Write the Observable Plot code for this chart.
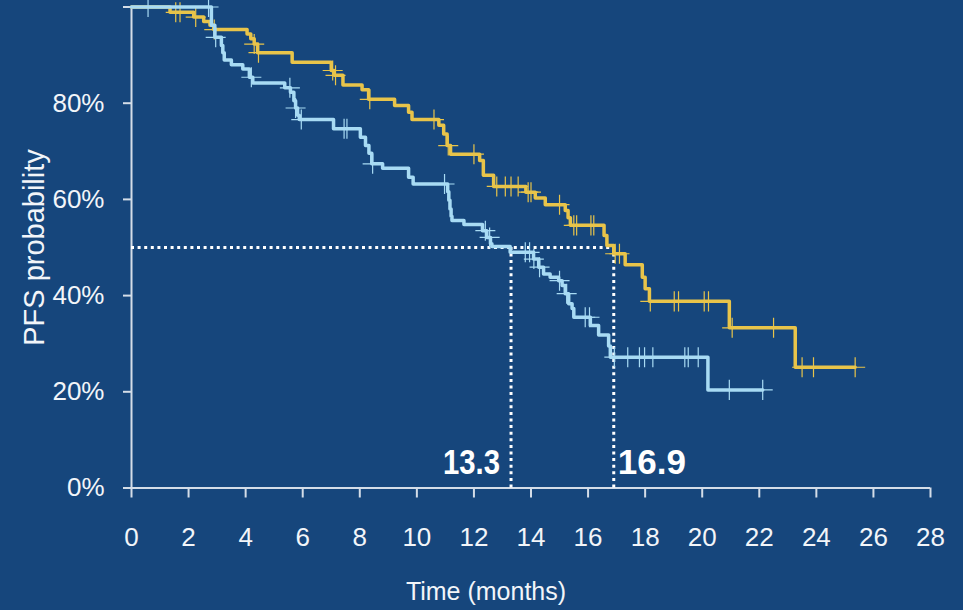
<!DOCTYPE html>
<html>
<head>
<meta charset="utf-8">
<script src="https://cdn.jsdelivr.net/npm/d3@7"></script>
<script src="https://cdn.jsdelivr.net/npm/@observablehq/plot@0.6"></script>
<style>
  html, body { margin: 0; padding: 0; background: #16467c; }
  #chart { width: 963px; height: 610px; overflow: hidden; }
  #chart svg g[aria-label="x-axis tick label"] text,
  #chart svg g[aria-label="y-axis tick label"] text { font-size: 26px; }
</style>
</head>
<body>
<div id="chart"></div>
<script>
// ---- Data ----
const xTicks = [0, 2, 4, 6, 8, 10, 12, 14, 16, 18, 20, 22, 24, 26, 28];
const yTicks = [0, 20, 40, 60, 80, 100];
const xTitle = "Time (months)";
const yTitle = "PFS probability";

// Yellow arm
const armATime = [0, 1.35, 2.18, 2.53, 2.75, 2.88, 4.05, 4.18, 4.30, 4.42, 5.63, 7.00, 7.10, 7.41, 8.08, 8.31, 9.22, 9.71, 9.83, 10.77, 10.94, 11.06, 11.18, 12.20, 12.33, 12.69, 13.82, 14.15, 14.50, 15.20, 15.30, 15.38, 16.56, 16.66, 16.90, 17.30, 17.90, 18.00, 18.15, 20.95, 23.26];
const armASurv = [100, 98.9, 97.9, 97.0, 96.2, 95.3, 94.4, 93.4, 92.3, 90.5, 88.5, 86.8, 85.8, 83.8, 82.8, 80.8, 79.5, 78.1, 76.6, 75.4, 73.6, 71.2, 69.4, 68.1, 65.0, 62.7, 61.5, 60.3, 58.9, 57.7, 56.2, 54.6, 52.5, 50.4, 48.7, 46.4, 43.8, 41.4, 38.8, 33.3, 25.1];
const armACensor = [1.55, 1.7, 2.25, 2.9, 4.3, 4.45, 7.05, 7.15, 8.35, 10.6, 11.1, 12.0, 12.8, 13.1, 13.3, 13.55, 13.9, 14.0, 15.0, 15.5, 15.6, 16.1, 16.2, 16.95, 17.1, 18.18, 19.02, 19.17, 20.07, 20.22, 21.05, 22.5, 23.5, 23.9, 25.36];

// Light-blue arm
const armBTime = [0, 2.80, 2.92, 3.15, 3.20, 3.25, 3.50, 3.90, 4.13, 4.25, 5.37, 5.57, 5.69, 5.75, 5.82, 5.88, 7.08, 8.02, 8.20, 8.32, 8.42, 8.80, 9.71, 9.87, 11.08, 11.12, 11.16, 11.20, 11.23, 11.65, 12.30, 12.45, 12.58, 12.63, 13.27, 14.09, 14.27, 14.44, 14.67, 14.97, 15.09, 15.20, 15.32, 15.44, 15.50, 16.08, 16.37, 16.72, 16.78, 20.20];
const armBSurv = [100, 96.2, 93.7, 92.0, 90.5, 89.0, 88.0, 87.1, 85.4, 84.2, 83.2, 82.3, 80.5, 79.0, 77.5, 76.6, 74.7, 72.9, 71.2, 69.6, 67.4, 66.5, 64.6, 63.2, 61.6, 59.8, 58.0, 56.5, 55.6, 54.8, 53.5, 52.1, 50.8, 50.2, 49.0, 47.6, 45.9, 44.5, 43.8, 43.1, 42.1, 40.4, 38.3, 37.3, 35.5, 33.8, 31.8, 29.5, 27.2, 20.4];
const armBCensor = [0.58, 2.7, 2.95, 4.2, 5.55, 5.75, 5.95, 7.45, 7.55, 8.45, 10.97, 12.4, 12.55, 13.8, 13.95, 14.1, 14.3, 15.0, 15.25, 15.9, 16.05, 16.92, 17.39, 17.80, 17.98, 18.27, 19.39, 19.51, 19.86, 20.95, 22.12];

const medianLevel = 50;
const medianB = 13.3;
const medianA = 16.9;
const medianBLabel = "13.3";
const medianALabel = "16.9";

// ---- Styling ----
const bg = "#16467c";
const axisColor = "#d4dde8";
const yellow = "#e8c44a";
const blue = "#a8dbf4";

// ---- Helpers building tables from the arrays ----
function stepAt(times, surv, t) {
  let v = surv[0];
  for (let i = 0; i < times.length; i++) if (times[i] <= t) v = surv[i];
  return v;
}
function curveRows(times, surv, censor) {
  const rows = times.map((t, i) => ({t, s: surv[i]}));
  rows.push({t: Math.max(...censor), s: surv[surv.length - 1]});
  return rows;
}
function censorRows(times, surv, censor) {
  return censor.map(t => ({t, s: stepAt(times, surv, t)}));
}

const lineA = curveRows(armATime, armASurv, armACensor);
const lineB = curveRows(armBTime, armBSurv, armBCensor);
const cenA = censorRows(armATime, armASurv, armACensor);
const cenB = censorRows(armBTime, armBSurv, armBCensor);

const font = "'Liberation Sans', Arial, Helvetica, sans-serif";

const chart = Plot.plot({
  width: 963,
  height: 610,
  marginLeft: 131,
  marginRight: 33,
  marginTop: 6.5,
  marginBottom: 122.5,
  style: {background: bg, color: axisColor, fontFamily: font, fontSize: "25px", overflow: "visible"},
  x: {domain: [0, 28]},
  y: {domain: [0, 100]},
  marks: [
    Plot.axisX({ticks: xTicks, tickSize: 10, tickPadding: 30, tickFormat: d => String(d), label: null, strokeWidth: 2, fill: "#f2f5f9", fontSize: 26}),
    Plot.axisY({ticks: yTicks, tickSize: 8, tickPadding: 19, tickFormat: d => d === 100 ? "" : d + "%", label: null, strokeWidth: 2, fill: "#f2f5f9", fontSize: 26}),
    Plot.ruleX([0], {stroke: axisColor, strokeWidth: 2}),
    Plot.ruleY([0], {stroke: axisColor, strokeWidth: 2}),
    // median guide lines
    Plot.ruleY([medianLevel], {x1: 0, x2: medianA, stroke: "#ffffff", strokeWidth: 3, strokeDasharray: "3 3.6"}),
    Plot.ruleX([medianB, medianA], {y1: 0, y2: medianLevel, stroke: "#ffffff", strokeWidth: 3, strokeDasharray: "3 3.6"}),
    // curves
    Plot.line(lineA, {x: "t", y: "s", curve: "step-after", stroke: yellow, strokeWidth: 3.5}),
    Plot.dot(cenA, {x: "t", y: "s", symbol: "plus", r: 6.5, stroke: yellow, strokeWidth: 1.2}),
    Plot.line(lineB, {x: "t", y: "s", curve: "step-after", stroke: blue, strokeWidth: 3.5}),
    Plot.dot(cenB, {x: "t", y: "s", symbol: "plus", r: 6.5, stroke: blue, strokeWidth: 1.2}),
    // median labels
    Plot.text([medianB], {x: d => d, text: [medianBLabel], frameAnchor: "bottom", dy: -14, dx: -11, textAnchor: "end", lineAnchor: "bottom", fill: "#ffffff", fontWeight: "bold", fontSize: 35}),
    Plot.text([medianA], {x: d => d, text: [medianALabel], frameAnchor: "bottom", dy: -14, dx: 4, textAnchor: "start", lineAnchor: "bottom", fill: "#ffffff", fontWeight: "bold", fontSize: 35}),
    // axis titles
    Plot.text([xTitle], {frameAnchor: "bottom", dx: -45, dy: 104, textAnchor: "middle", lineAnchor: "middle", fill: "#f2f5f9", fontSize: 25}),
    Plot.text([yTitle], {frameAnchor: "left", dx: -97, dy: 0, rotate: -90, textAnchor: "middle", lineAnchor: "middle", fill: "#f2f5f9", fontSize: 29})
  ]
});
// the "13.3" label is drawn slightly condensed in the reference
d3.select(chart).selectAll("text").filter(function() { return this.textContent === medianBLabel; })
  .attr("textLength", 57).attr("lengthAdjust", "spacingAndGlyphs");
document.getElementById("chart").appendChild(chart);
</script>
</body>
</html>
